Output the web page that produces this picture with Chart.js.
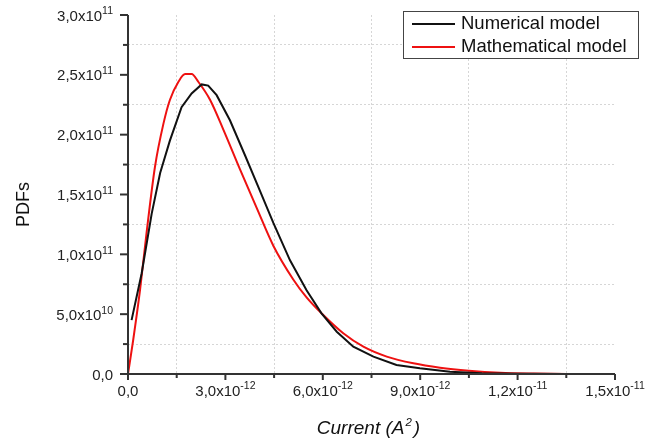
<!DOCTYPE html>
<html><head><meta charset="utf-8">
<script src="https://cdn.jsdelivr.net/npm/chart.js@4/dist/chart.umd.min.js"></script>
<style>html,body{margin:0;padding:0;background:#fff}#wrap{width:647px;height:445px;position:relative}</style>
</head><body><div id="wrap"><canvas id="c" width="647" height="445"></canvas></div>
<script>
// units: current in 1e-12 A^2, PDF in 1e10
const X_UNIT = 1e-12, Y_UNIT = 1e10;
const numericalX = [0.11,0.42,0.73,0.99,1.29,1.65,1.96,2.27,2.47,2.73,3.14,3.60,4.01,4.48,4.99,5.50,5.96,6.43,6.94,7.56,8.27,8.99,9.92,10.9,12.0,13.5,15.0];
const numericalY = [4.5,8.4,13.4,16.8,19.5,22.3,23.45,24.2,24.1,23.3,21.2,18.3,15.65,12.6,9.5,7.0,5.07,3.53,2.28,1.45,0.75,0.48,0.19,0.06,0.02,0.0,0.0];
const mathX = [0,0.16,0.37,0.57,0.83,1.09,1.29,1.55,1.76,1.96,2.17,2.53,2.94,3.45,3.96,4.48,5.09,5.50,5.96,6.63,7.25,7.97,8.79,9.61,10.5,11.46,12.5,13.5,15.0];
const mathY = [0,2.84,7.0,11.75,17.3,20.9,22.9,24.4,25.06,25.06,24.4,22.9,20.4,17.1,13.9,10.7,7.9,6.4,5.07,3.40,2.28,1.45,0.89,0.53,0.28,0.11,0.04,0.01,0.0];
const seriesLabels = ["Numerical model", "Mathematical model"];
const seriesColors = ["#111111", "#ee1111"];

const xTickValues = [0,1.5e-12,3e-12,4.5e-12,6e-12,7.5e-12,9e-12,1.05e-11,1.2e-11,1.35e-11,1.5e-11];
const xTickLabels = ["0,0","","3,0x10^-12","","6,0x10^-12","","9,0x10^-12","","1,2x10^-11","","1,5x10^-11"];
const yTickValues = [0,2.5e10,5e10,7.5e10,1e11,1.25e11,1.5e11,1.75e11,2e11,2.25e11,2.5e11,2.75e11,3e11];
const yTickLabels = ["0,0","","5,0x10^10","","1,0x10^11","","1,5x10^11","","2,0x10^11","","2,5x10^11","","3,0x10^11"];
const xTitle = ["Current (A", "2", ")"];
const yTitle = "PDFs";

const FONT = '"Liberation Sans", Arial, sans-serif';

function pts(xs, ys){ return xs.map((v,i)=>({x:v*X_UNIT, y:ys[i]*Y_UNIT})); }

function drawSup(ctx, text, x, y, align, base, sup, rise){
  const parts = text.split('^');
  ctx.font = base + 'px ' + FONT;
  const w1 = ctx.measureText(parts[0]).width;
  let w2 = 0;
  if (parts[1]) { ctx.font = sup + 'px ' + FONT; w2 = ctx.measureText(parts[1]).width; }
  const tw = w1 + w2;
  let sx = align === 'right' ? x - tw : align === 'center' ? x - tw/2 : x;
  ctx.textAlign = 'left'; ctx.textBaseline = 'middle';
  ctx.font = base + 'px ' + FONT;
  ctx.fillText(parts[0], sx, y);
  if (parts[1]) { ctx.font = sup + 'px ' + FONT; ctx.fillText(parts[1], sx + w1, y - rise); }
}

const decor = {
  id: 'decor',
  afterDraw(chart){
    const {ctx, chartArea:a, scales:{x, y}} = chart;
    ctx.save();
    ctx.strokeStyle = '#333'; ctx.fillStyle = '#222'; ctx.lineWidth = 2;
    ctx.beginPath();
    ctx.moveTo(a.left, a.top); ctx.lineTo(a.left, a.bottom + 1);
    ctx.moveTo(a.left - 1, a.bottom); ctx.lineTo(a.right, a.bottom);
    ctx.stroke();
    xTickValues.forEach((v,i)=>{
      const px = x.getPixelForValue(v);
      const len = i % 2 === 0 ? 6 : 4;
      ctx.beginPath(); ctx.moveTo(px, a.bottom); ctx.lineTo(px, a.bottom + len); ctx.stroke();
      if (xTickLabels[i]) drawSup(ctx, xTickLabels[i], px, a.bottom + 18, 'center', 15, 10.5, 6);
    });
    yTickValues.forEach((v,i)=>{
      const py = y.getPixelForValue(v);
      const len = i % 2 === 0 ? 8 : 5;
      ctx.beginPath(); ctx.moveTo(a.left, py); ctx.lineTo(a.left - len, py); ctx.stroke();
      if (yTickLabels[i]) drawSup(ctx, yTickLabels[i], a.left - 15, py + 1.5, 'right', 15, 10.5, 5);
    });
    ctx.fillStyle = '#111';
    ctx.save();
    ctx.translate(24, 204.5); ctx.rotate(-Math.PI/2);
    ctx.font = '18px ' + FONT; ctx.textAlign = 'center'; ctx.textBaseline = 'middle';
    ctx.fillText(yTitle, 0, 0);
    ctx.restore();
    ctx.font = 'italic 19px ' + FONT;
    const w1 = ctx.measureText(xTitle[0]).width;
    const w3 = ctx.measureText(xTitle[2]).width;
    ctx.font = 'italic 11.5px ' + FONT;
    const w2 = ctx.measureText(xTitle[1]).width;
    let sx = 368.5 - (w1 + w2 + w3 + 3)/2;
    ctx.textAlign = 'left'; ctx.textBaseline = 'middle';
    ctx.font = 'italic 19px ' + FONT; ctx.fillText(xTitle[0], sx, 429);
    ctx.font = 'italic 11.5px ' + FONT; ctx.fillText(xTitle[1], sx + w1 + 1, 423);
    ctx.font = 'italic 19px ' + FONT; ctx.fillText(xTitle[2], sx + w1 + w2 + 3, 429);
    ctx.fillStyle = '#fff'; ctx.strokeStyle = '#444'; ctx.lineWidth = 1;
    ctx.fillRect(403.5, 11.5, 235, 47); ctx.strokeRect(403.5, 11.5, 235, 47);
    const rows = [24, 47];
    chart.data.datasets.forEach((ds, i)=>{
      ctx.strokeStyle = ds.borderColor; ctx.lineWidth = 2;
      ctx.beginPath(); ctx.moveTo(412, rows[i]); ctx.lineTo(455, rows[i]); ctx.stroke();
      ctx.fillStyle = '#111'; ctx.font = '18.5px ' + FONT; ctx.textAlign = 'left'; ctx.textBaseline = 'middle';
      ctx.fillText(ds.label, 461, rows[i]);
    });
    ctx.restore();
  }
};

const gridColor = c => (c.index % 2 === 1) ? '#d6d6d6' : 'rgba(0,0,0,0)';

new Chart(document.getElementById('c'), {
  type: 'line',
  data: {
    datasets: [
      { label: seriesLabels[0], data: pts(numericalX, numericalY), borderColor: seriesColors[0], borderWidth: 2, pointRadius: 0, tension: 0, fill: false },
      { label: seriesLabels[1], data: pts(mathX, mathY), borderColor: seriesColors[1], borderWidth: 2, pointRadius: 0, cubicInterpolationMode: 'monotone', fill: false }
    ]
  },
  options: {
    responsive: false, animation: false, devicePixelRatio: 1,
    layout: { padding: { left: 128, right: 32, top: 15, bottom: 71 } },
    plugins: { legend: { display: false }, tooltip: { enabled: false } },
    scales: {
      x: { type: 'linear', min: 0, max: 1.5e-11,
           afterBuildTicks: s => { s.ticks = xTickValues.map(v => ({value: v})); },
           afterFit: s => { s.height = 0; },
           ticks: { display: false },
           grid: { color: gridColor, lineWidth: 1, drawTicks: false },
           border: { display: false, dash: [2, 2] } },
      y: { type: 'linear', min: 0, max: 3e11,
           afterBuildTicks: s => { s.ticks = yTickValues.map(v => ({value: v})); },
           afterFit: s => { s.width = 0; },
           ticks: { display: false },
           grid: { color: gridColor, lineWidth: 1, drawTicks: false },
           border: { display: false, dash: [2, 2] } }
    }
  },
  plugins: [decor]
});
</script></body></html>
